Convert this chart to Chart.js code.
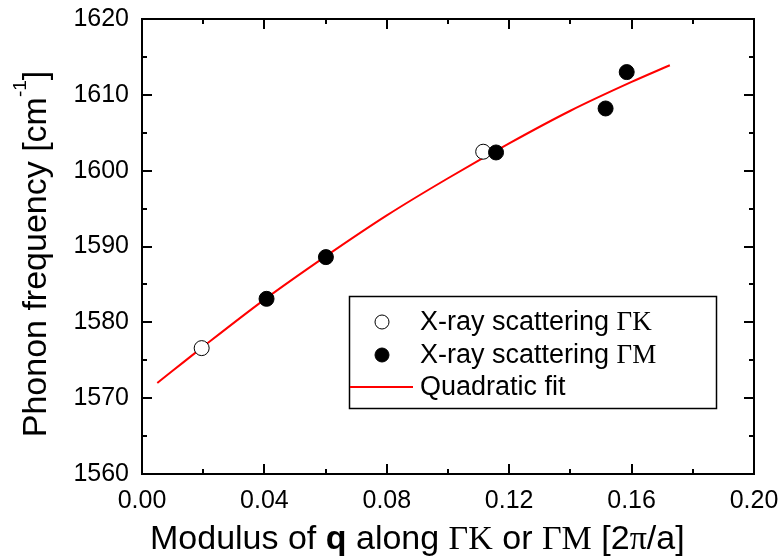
<!DOCTYPE html>
<html>
<head>
<meta charset="utf-8">
<script src="https://cdn.jsdelivr.net/npm/chart.js@4.4.1/dist/chart.umd.min.js"></script>
<style>
html, body { margin: 0; padding: 0; background: #fff; }
#caixa { width: 782px; height: 560px; }
</style>
</head>
<body>
<div id="caixa"><canvas id="plot1"></canvas></div>
<script>
// dados
var q_gk = [0.0195, 0.1115];
var freq_gk = [1576.6, 1602.5];
var q_gm = [0.0407, 0.0601, 0.1157, 0.1515, 0.1584];
var freq_gm = [1583.1, 1588.6, 1602.4, 1608.2, 1613.0];
var q_fit = [0.005, 0.02, 0.04, 0.06, 0.08, 0.10, 0.12, 0.14, 0.16, 0.1725];
var freq_fit = [1572.0, 1576.8, 1583.0, 1588.7, 1594.1, 1599.0, 1603.6, 1607.9, 1611.7, 1613.9];
var ticks_x = [0.00, 0.04, 0.08, 0.12, 0.16, 0.20];
var ticks_y = [1560, 1570, 1580, 1590, 1600, 1610, 1620];
var nomes = ['X-ray scattering ', 'X-ray scattering ', 'Quadratic fit'];
var nomes_serif = ['\u0393K', '\u0393M', ''];

var SANS = '"Liberation Sans", Arial, Helvetica, sans-serif';
var SERIF = '"Liberation Serif", "Times New Roman", serif';

function pontos(xs, ys) {
    var r = [];
    for (var i = 0; i < xs.length; i++) r.push({ x: xs[i], y: ys[i] });
    return r;
}

// desenha texto em pedacos com fontes diferentes
function texto_misto(ctx, partes, x, y) {
    var px = x;
    partes.forEach(function (p) {
        ctx.font = p.font;
        ctx.fillText(p.t, px, y - (p.dy || 0));
        px += ctx.measureText(p.t).width;
    });
    return px;
}
function largura_misto(ctx, partes) {
    var w = 0;
    partes.forEach(function (p) { ctx.font = p.font; w += ctx.measureText(p.t).width; });
    return w;
}

var moldura = {
    id: 'moldura',
    beforeDatasetsDraw: function (chart) {
        var ctx = chart.ctx, a = chart.chartArea;
        var sx = chart.scales.x, sy = chart.scales.y;
        ctx.save();
        ctx.strokeStyle = '#000';
        ctx.lineWidth = 2;
        ctx.strokeRect(a.left, a.top, a.right - a.left, a.bottom - a.top);
        ctx.beginPath();
        for (var i = 0; i <= 10; i++) {
            var v = i * 0.02;
            var px = Math.round(sx.getPixelForValue(v));
            var len = (i % 2 == 0) ? 10 : 5;
            ctx.moveTo(px, a.bottom); ctx.lineTo(px, a.bottom - len);
            ctx.moveTo(px, a.top); ctx.lineTo(px, a.top + len);
        }
        for (var j = 0; j <= 12; j++) {
            var w = 1560 + j * 5;
            var py = Math.round(sy.getPixelForValue(w));
            var l2 = (j % 2 == 0) ? 10 : 5;
            ctx.moveTo(a.left, py); ctx.lineTo(a.left + l2, py);
            ctx.moveTo(a.right, py); ctx.lineTo(a.right - l2, py);
        }
        ctx.stroke();
        ctx.restore();
    },
    afterDraw: function (chart) {
        var ctx = chart.ctx;
        ctx.save();
        ctx.fillStyle = '#000';
        ctx.textBaseline = 'alphabetic';
        ctx.textAlign = 'left';

        // titulo do eixo x
        var f = '34px ';
        var tx = [
            { t: 'Modulus of ', font: f + SANS },
            { t: 'q', font: 'bold ' + f + SANS },
            { t: ' along ', font: f + SANS },
            { t: '\u0393K', font: f + SERIF },
            { t: ' or ', font: f + SANS },
            { t: '\u0393M', font: f + SERIF },
            { t: ' [2', font: f + SANS },
            { t: '\u03C0', font: f + SERIF },
            { t: '/a]', font: f + SANS }
        ];
        texto_misto(ctx, tx, 150, 549);

        // titulo do eixo y (rodado)
        var ty = [
            { t: 'Phonon frequency [cm', font: '34px ' + SANS },
            { t: '-1', font: '19px ' + SANS, dy: 20 },
            { t: ']', font: '34px ' + SANS }
        ];
        var wy = largura_misto(ctx, ty);
        ctx.save();
        ctx.translate(46, 254);
        ctx.rotate(-Math.PI / 2);
        texto_misto(ctx, ty, -wy / 2, 0);
        ctx.restore();

        // legenda
        ctx.strokeStyle = '#000';
        ctx.lineWidth = 1.5;
        ctx.strokeRect(349.5, 296.5, 367, 112);
        var linhas = [322, 355, 387];
        var ordem = [1, 0, 2];
        ctx.textBaseline = 'middle';
        for (var k = 0; k < 3; k++) {
            var ds = chart.data.datasets[ordem[k]];
            if (k < 2) {
                ctx.beginPath();
                ctx.arc(382, linhas[k], 7, 0, 2 * Math.PI);
                ctx.fillStyle = ds.pointBackgroundColor;
                ctx.fill();
                ctx.lineWidth = 1;
                ctx.strokeStyle = '#000';
                ctx.stroke();
            } else {
                ctx.beginPath();
                ctx.moveTo(350, linhas[k]);
                ctx.lineTo(413, linhas[k]);
                ctx.strokeStyle = ds.borderColor;
                ctx.lineWidth = 2;
                ctx.stroke();
            }
            ctx.fillStyle = '#000';
            texto_misto(ctx, [
                { t: nomes[k], font: '27px ' + SANS },
                { t: nomes_serif[k], font: '27px ' + SERIF }
            ], 420, linhas[k] + 1);
        }
        ctx.restore();
    }
};

var config = {
    type: 'scatter',
    data: {
        datasets: [
            {
                label: 'X-ray scattering \u0393M',
                data: pontos(q_gm, freq_gm),
                pointRadius: 7.5,
                pointBackgroundColor: '#000',
                pointBorderColor: '#000',
                pointBorderWidth: 1,
                order: 0
            },
            {
                label: 'X-ray scattering \u0393K',
                data: pontos(q_gk, freq_gk),
                pointRadius: 7.5,
                pointBackgroundColor: '#fff',
                pointBorderColor: '#000',
                pointBorderWidth: 1,
                order: 1
            },
            {
                label: 'Quadratic fit',
                data: pontos(q_fit, freq_fit),
                showLine: true,
                cubicInterpolationMode: 'monotone',
                borderColor: '#ff0000',
                borderWidth: 2,
                pointRadius: 0,
                order: 2
            }
        ]
    },
    options: {
        responsive: true,
        maintainAspectRatio: false,
        animation: false,
        layout: { padding: { top: 19, right: 28, left: 0, bottom: 0 } },
        plugins: { legend: { display: false }, tooltip: { enabled: false } },
        scales: {
            x: {
                type: 'linear',
                min: 0, max: 0.2,
                grid: { display: false, drawTicks: false },
                border: { display: false },
                afterBuildTicks: function (s) { s.ticks = ticks_x.map(function (v) { return { value: v }; }); },
                afterFit: function (s) { s.height = 86; s.paddingLeft = 0; s.paddingRight = 0; },
                ticks: {
                    color: '#000',
                    padding: 12,
                    maxRotation: 0,
                    font: { family: SANS, size: 25 },
                    callback: function (v) { return Number(v).toFixed(2); }
                }
            },
            y: {
                type: 'linear',
                min: 1560, max: 1620,
                grid: { display: false, drawTicks: false },
                border: { display: false },
                afterBuildTicks: function (s) { s.ticks = ticks_y.map(function (v) { return { value: v }; }); },
                afterFit: function (s) { s.width = 142; s.paddingTop = 0; s.paddingBottom = 0; },
                ticks: {
                    color: '#000',
                    padding: 13,
                    font: { family: SANS, size: 25 },
                    callback: function (v) { return String(v); }
                }
            }
        }
    },
    plugins: [moldura]
};

var grafico = new Chart(document.getElementById('plot1'), config);
</script>
</body>
</html>
